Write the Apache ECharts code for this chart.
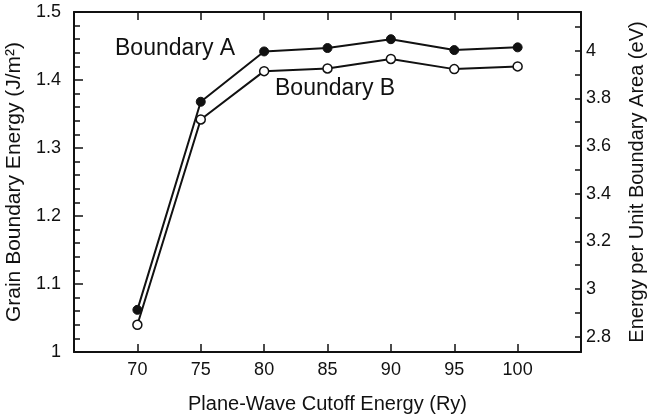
<!DOCTYPE html>
<html>
<head>
<meta charset="UTF-8">
<script src="https://cdn.jsdelivr.net/npm/echarts@6/dist/echarts.min.js"></script>
<style>
  body { margin: 0; background: #fff; }
  #chart { width: 647px; height: 420px; }
</style>
</head>
<body>
<div id="chart"></div>
<script>
// cutoff energies (Ry)
var cutoffs = [70, 75, 80, 85, 90, 95, 100];
// grain boundary energy (J/m2)
var boundaryA = [1.062, 1.368, 1.442, 1.447, 1.460, 1.444, 1.448];
var boundaryB = [1.040, 1.342, 1.413, 1.417, 1.431, 1.416, 1.420];
var xTickLabels = ['70', '75', '80', '85', '90', '95', '100'];
// right axis (eV)
var evTicks = [2.8, 2.9, 3.0, 3.1, 3.2, 3.3, 3.4, 3.5, 3.6, 3.7, 3.8, 3.9, 4.0, 4.1];
var evLabels = [2.8, 3.0, 3.2, 3.4, 3.6, 3.8, 4.0];
var evMin = 2.736, evMax = 4.162;

var font = 'Liberation Sans, Arial, Helvetica, sans-serif';
var black = '#111';

function pairs(ys) {
    return cutoffs.map(function (x, i) { return [x, ys[i]]; });
}

var chart = echarts.init(document.getElementById('chart'));
chart.setOption({
    animation: false,
    grid: { left: 74, right: 66, top: 12, bottom: 68, outerBoundsMode: 'none' },
    xAxis: [{
        type: 'value', min: 65, max: 105, interval: 5,
        name: 'Plane-Wave Cutoff Energy (Ry)', nameLocation: 'middle', nameGap: 42,
        nameTextStyle: { fontFamily: font, fontSize: 20, color: black },
        axisLine: { lineStyle: { color: black, width: 2 } },
        axisTick: { inside: true, length: 8, lineStyle: { color: black, width: 1.5 } },
        axisLabel: {
            fontFamily: font, fontSize: 18, color: black, margin: 9,
            formatter: function (v) { return xTickLabels.indexOf(String(v)) >= 0 ? String(v) : ''; }
        },
        splitLine: { show: false }
    }, {
        type: 'value', position: 'top', min: 65, max: 105, interval: 5,
        axisLine: { lineStyle: { color: black, width: 2 } },
        axisTick: { inside: true, length: 8, lineStyle: { color: black, width: 1.5 } },
        axisLabel: { show: false },
        splitLine: { show: false }
    }],
    yAxis: [{
        type: 'value', min: 1, max: 1.5, interval: 0.1,
        name: 'Grain Boundary Energy (J/m²)', nameLocation: 'middle', nameGap: 46,
        nameTextStyle: { fontFamily: font, fontSize: 21, color: black },
        axisLine: { show: true, lineStyle: { color: black, width: 2 } },
        axisTick: { inside: true, length: 9, lineStyle: { color: black, width: 1.5 } },
        minorTick: { show: true, splitNumber: 5, length: 6, lineStyle: { color: black, width: 1.5 } },
        axisLabel: {
            fontFamily: font, fontSize: 18, color: black, margin: 13,
            formatter: function (v) { return String(Math.round(v * 10) / 10); }
        },
        splitLine: { show: false }
    }, {
        type: 'value', position: 'right', min: evMin, max: evMax,
        name: 'Energy per Unit Boundary Area (eV)', nameLocation: 'middle', nameGap: 46,
        nameRotate: 90,
        nameTextStyle: { fontFamily: font, fontSize: 20, color: black },
        axisLine: { show: true, lineStyle: { color: black, width: 2 } },
        axisTick: { inside: true, length: 6, customValues: evTicks, lineStyle: { color: black, width: 1.5 } },
        axisLabel: {
            fontFamily: font, fontSize: 18, color: black, margin: 5,
            customValues: evLabels,
            formatter: function (v) { return String(Math.round(v * 10) / 10); }
        },
        splitLine: { show: false }
    }],
    series: [{
        name: 'Boundary A', type: 'line', data: pairs(boundaryA),
        yAxisIndex: 0,
        symbol: 'circle', symbolSize: 9,
        lineStyle: { color: black, width: 2 },
        itemStyle: { color: black, borderColor: black, borderWidth: 1 }
    }, {
        name: 'Boundary B', type: 'line', data: pairs(boundaryB),
        yAxisIndex: 0,
        symbol: 'circle', symbolSize: 9,
        lineStyle: { color: black, width: 2 },
        itemStyle: { color: '#fff', borderColor: black, borderWidth: 1.5 }
    }],
    graphic: [{
        type: 'text', left: 115, top: 37,
        style: { text: 'Boundary A', fontFamily: font, fontSize: 23, fill: black }
    }, {
        type: 'text', left: 275, top: 77,
        style: { text: 'Boundary B', fontFamily: font, fontSize: 23, fill: black }
    }]
});
</script>
</body>
</html>
